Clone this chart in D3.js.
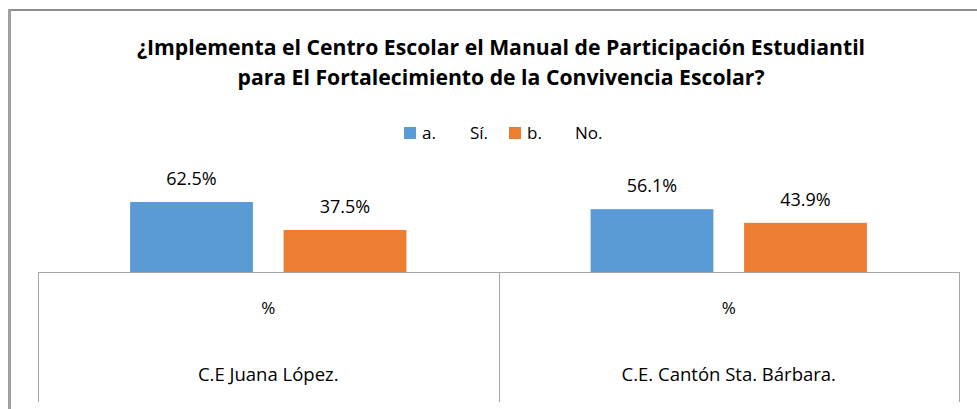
<!DOCTYPE html>
<html>
<head>
<meta charset="utf-8">
<script src="https://cdn.jsdelivr.net/npm/d3@7"></script>
<style>
  body { margin: 0; background: #fff; }
  text { font-family: "Open Sans", sans-serif; fill: #000; }
</style>
</head>
<body>
<div id="graph"></div>
<script>
// DONNEES DU GRAPHIQUE
var titleLines = ['¿Implementa el Centro Escolar el Manual de Participación Estudiantil',
                  'para El Fortalecimiento de la Convivencia Escolar?'];
var centros = ['C.E Juana López.', 'C.E. Cantón Sta. Bárbara.'];
var unidad = ['%', '%'];
var serieCodigos = ['a.', 'b.'];
var serieNombres = ['Sí.', 'No.'];
var valoresSi = [62.5, 56.1];
var valoresNo = [37.5, 43.9];
var colores = ['#5B9BD5', '#ED7D31'];

// dimensions
let width = 977;
let height = 409;
let baseline = 272;
let axisBottom = 402;

let svg = d3.select('#graph').append('svg')
    .attr('width', width)
    .attr('height', height);

// cadre
svg.append('line')
    .attr('x1', 9).attr('x2', width).attr('y1', 10).attr('y2', 10)
    .attr('stroke', '#8c8c8c').attr('stroke-width', 2);
svg.append('line')
    .attr('x1', 9.5).attr('x2', 9.5).attr('y1', 9).attr('y2', height)
    .attr('stroke', '#a0a0a0').attr('stroke-width', 3);

// titre
svg.append('text')
    .attr('text-anchor', 'middle')
    .style('font-weight', 'bold')
    .style('font-size', '21.2px')
    .selectAll('tspan')
    .data(titleLines)
    .enter().append('tspan')
    .attr('x', 501)
    .attr('y', (d, i) => 55 + i * 30)
    .text(d => d);

// echelles
let x0 = d3.scaleBand()
    .domain(centros)
    .range([38, 959])
    .padding(0);

let groupW = x0.bandwidth() * 0.6;
let x1 = d3.scaleBand()
    .domain(serieCodigos)
    .range([(x0.bandwidth() - groupW) / 2, (x0.bandwidth() + groupW) / 2])
    .paddingInner(0.2);

let y = d3.scaleLinear()
    .domain([0, 100])
    .range([baseline, 160]);

let data = centros.map((c, i) => ({
    centro: c,
    valores: [
        {code: serieCodigos[0], v: valoresSi[i], color: colores[0]},
        {code: serieCodigos[1], v: valoresNo[i], color: colores[1]}
    ]
}));

// barres
let groups = svg.selectAll('.grupo')
    .data(data)
    .enter().append('g')
    .attr('class', 'grupo')
    .attr('transform', d => 'translate(' + x0(d.centro) + ',0)');

groups.selectAll('rect')
    .data(d => d.valores)
    .enter().append('rect')
    .attr('x', d => x1(d.code))
    .attr('width', x1.bandwidth())
    .attr('y', d => y(d.v))
    .attr('height', d => baseline - y(d.v))
    .attr('fill', d => d.color);

groups.selectAll('.valor')
    .data(d => d.valores)
    .enter().append('text')
    .attr('class', 'valor')
    .attr('x', d => x1(d.code) + x1.bandwidth() / 2)
    .attr('y', d => y(d.v) - 17)
    .attr('text-anchor', 'middle')
    .style('font-size', '18px')
    .text(d => d.v.toFixed(1) + '%');

// axe des categories (deux niveaux)
let axe = svg.append('g').attr('class', 'axe');
axe.append('line')
    .attr('x1', x0.range()[0]).attr('x2', x0.range()[1])
    .attr('y1', baseline + 0.5).attr('y2', baseline + 0.5)
    .attr('stroke', '#a6a6a6');

let bords = [x0.range()[0]].concat(centros.map(c => x0(c) + x0.bandwidth()));
axe.selectAll('.sep')
    .data(bords)
    .enter().append('line')
    .attr('class', 'sep')
    .attr('x1', d => Math.round(d) + 0.5).attr('x2', d => Math.round(d) + 0.5)
    .attr('y1', baseline).attr('y2', axisBottom)
    .attr('stroke', '#a6a6a6');

axe.selectAll('.unidad')
    .data(unidad)
    .enter().append('text')
    .attr('class', 'unidad')
    .attr('x', (d, i) => x0(centros[i]) + x0.bandwidth() / 2)
    .attr('y', 314)
    .attr('text-anchor', 'middle')
    .style('font-size', '17px')
    .text(d => d);

axe.selectAll('.centro')
    .data(centros)
    .enter().append('text')
    .attr('class', 'centro')
    .attr('x', d => x0(d) + x0.bandwidth() / 2)
    .attr('y', 381)
    .attr('text-anchor', 'middle')
    .style('font-size', '18.5px')
    .text(d => d);

// legende
let legende = svg.selectAll('.legende')
    .data(serieCodigos)
    .enter().append('g')
    .attr('class', 'legende')
    .attr('transform', (d, i) => 'translate(' + (404 + i * 105) + ',127)');

legende.append('rect')
    .attr('width', 12).attr('height', 12)
    .attr('fill', (d, i) => colores[i]);
legende.append('text')
    .attr('x', 18).attr('y', 12)
    .style('font-size', '17px')
    .text(d => d);
legende.append('text')
    .attr('x', 66).attr('y', 12)
    .style('font-size', '17px')
    .text((d, i) => serieNombres[i]);
</script>
</body>
</html>
